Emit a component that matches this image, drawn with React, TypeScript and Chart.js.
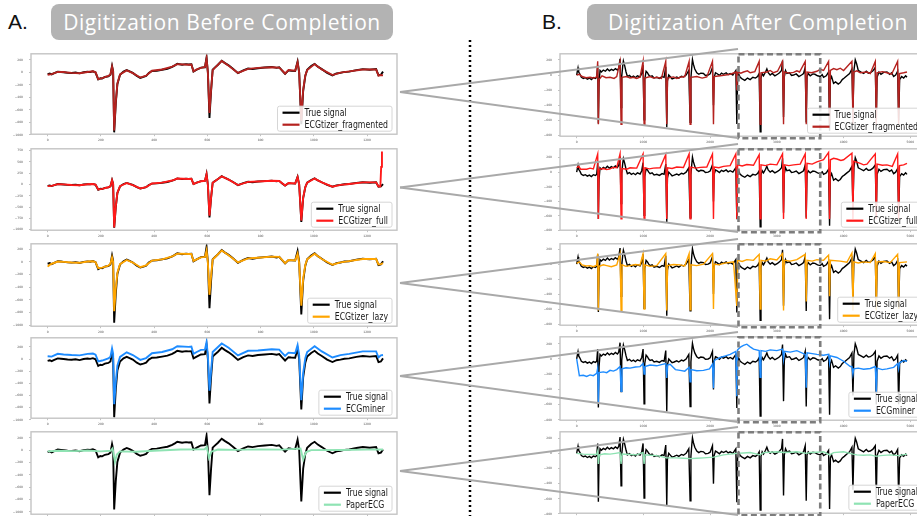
import React, { useEffect, useRef } from "react";
import { Chart, registerables } from "chart.js";
Chart.register(...registerables);

type Pt = [number, number];

// ---------- tick labels ----------
const LEFT_X_TICKS = [0, 200, 400, 600, 800, 1000, 1200];
const RIGHT_X_TICKS = [0, 1000, 2000, 3000, 4000, 5000];
const Y_TICKS_200 = [200, 0, -200, -400, -600, -800, -1000];
const Y_TICKS_250 = [750, 500, 250, 0, -250, -500, -750, -1000];
const RIGHT_Y_TICKS = [200, 0, -200, -400, -600, -800];

// ---------- series names ----------
const TRUE_LABEL = "True signal";
const METHOD_LABELS = ["ECGtizer_fragmented", "ECGtizer_full", "ECGtizer_lazy", "ECGminer", "PaperECG"];

// ---------- left column: digitization before completion (samples 0..1260) ----------
const LEFT_TRUE: Pt[] = [[0,-30],[8,-20],[15,-35],[25,-15],[38,10],[50,5],[60,0],[75,-8],[90,-12],[105,-5],[120,-18],[135,0],[150,8],[160,2],[170,14],[180,-5],[190,-115],[198,-95],[205,-100],[215,-75],[228,-65],[236,-40],[242,100],[246,20],[250,-960],[256,-500],[262,-190],[272,-40],[285,10],[297,35],[308,15],[320,-10],[335,-60],[348,-90],[360,-75],[370,-60],[380,-10],[392,20],[410,25],[430,40],[450,55],[468,85],[478,110],[487,135],[505,120],[520,130],[530,125],[540,128],[548,10],[560,40],[576,75],[591,80],[597,235],[602,0],[608,-730],[614,-300],[620,40],[627,70],[640,120],[654,185],[665,150],[680,110],[695,60],[715,-15],[735,30],[753,60],[770,50],[790,65],[815,75],[842,85],[860,70],[870,80],[880,30],[892,-25],[905,30],[915,25],[930,20],[939,170],[945,0],[953,-830],[960,-300],[968,-60],[975,40],[990,100],[1003,135],[1015,90],[1030,50],[1050,-10],[1070,-50],[1085,-20],[1100,-10],[1115,5],[1133,10],[1160,35],[1184,50],[1210,40],[1234,50],[1243,-50],[1252,-40],[1260,10]];
const LEFT_FRAG: Pt[] = [[0,-40],[15,-30],[38,5],[60,5],[75,-5],[90,-10],[120,-15],[150,5],[170,15],[180,0],[190,-110],[205,-95],[228,-60],[236,-35],[242,90],[246,10],[250,-930],[256,-480],[262,-180],[272,-35],[297,30],[320,-15],[348,-85],[370,-55],[392,25],[430,45],[468,90],[487,130],[530,120],[540,125],[548,15],[560,45],[576,70],[591,85],[597,220],[602,-10],[608,-650],[614,-280],[620,35],[627,65],[654,180],[680,105],[715,-10],[753,55],[790,70],[842,80],[870,75],[880,35],[892,-20],[905,35],[930,25],[939,160],[945,-10],[953,-780],[960,-280],[968,-50],[975,35],[1003,130],[1030,45],[1070,-45],[1100,-5],[1133,15],[1184,45],[1234,45],[1243,-55],[1252,-45],[1260,-50]];
const LEFT_FULL: Pt[] = [[0,-35],[15,-30],[38,8],[60,2],[90,-10],[120,-16],[150,6],[170,12],[180,-3],[190,-112],[205,-98],[228,-62],[236,-38],[242,95],[246,15],[250,-955],[256,-490],[262,-185],[272,-38],[297,33],[320,-12],[348,-88],[370,-58],[392,22],[430,42],[468,88],[487,132],[530,122],[540,126],[548,12],[560,42],[576,72],[591,82],[597,225],[602,-5],[608,-690],[614,-290],[620,38],[627,68],[654,182],[680,108],[715,-12],[753,58],[790,68],[842,82],[870,78],[880,32],[892,-22],[905,32],[930,22],[939,165],[945,-5],[953,-800],[960,-290],[968,-55],[975,38],[1003,132],[1030,48],[1070,-48],[1100,-8],[1133,12],[1184,48],[1234,48],[1243,-45],[1250,-40],[1253,390],[1256,730]];
const LEFT_LAZY: Pt[] = [[0,-75],[10,-40],[38,5],[60,0],[90,-10],[120,-15],[150,5],[170,10],[180,-5],[190,-100],[205,-90],[228,-60],[236,-30],[242,70],[246,0],[250,-780],[256,-420],[262,-170],[272,-35],[297,30],[320,-10],[348,-85],[370,-55],[392,20],[430,40],[468,85],[487,130],[530,125],[540,125],[548,15],[560,40],[576,70],[591,78],[597,180],[602,-10],[608,-520],[614,-220],[620,35],[627,65],[654,180],[680,105],[715,-10],[753,55],[790,65],[842,82],[870,78],[880,35],[892,-20],[905,30],[930,22],[939,130],[945,-20],[953,-690],[960,-260],[968,-50],[975,40],[1003,130],[1030,45],[1070,-45],[1100,-8],[1133,12],[1184,45],[1234,45],[1243,-40],[1252,-35],[1260,-20]];
const LEFT_MINER: Pt[] = [[0,45],[15,40],[38,85],[60,75],[90,65],[120,60],[150,85],[170,90],[180,70],[190,-40],[205,-25],[228,10],[236,35],[242,175],[246,90],[250,-745],[256,-380],[262,-110],[272,35],[297,110],[320,65],[348,-15],[370,15],[392,95],[430,115],[468,160],[487,210],[530,200],[540,205],[548,85],[560,115],[576,150],[591,155],[597,280],[602,60],[608,-523],[614,-200],[620,115],[627,145],[654,255],[680,185],[715,60],[753,135],[790,140],[842,160],[870,155],[880,105],[892,50],[905,105],[930,95],[939,230],[945,60],[953,-677],[960,-230],[968,15],[975,115],[1003,210],[1030,125],[1070,25],[1100,65],[1133,85],[1184,125],[1234,125],[1243,25],[1252,60],[1260,65]];
const LEFT_PAPER: Pt[] = [[0,-20],[40,-10],[100,-15],[150,-5],[200,-20],[236,-10],[244,30],[253,-190],[260,-70],[272,-20],[330,-25],[400,-10],[500,10],[590,15],[598,55],[606,-125],[615,-25],[640,10],[700,5],[800,12],[880,8],[950,25],[960,-150],[970,-35],[990,0],[1100,2],[1200,8],[1260,10]];

// ---------- right column: digitization after completion (samples 0..4950) ----------
const RIGHT_TRUE: Pt[] = [[0,0],[12,60],[20,95],[30,40],[50,10],[70,-30],[100,-45],[130,-35],[160,-55],[190,-40],[220,-60],[250,-35],[280,-45],[300,-30],[315,130],[325,-640],[335,-100],[350,60],[370,40],[400,65],[430,50],[460,80],[490,55],[520,75],[550,60],[580,85],[610,65],[630,90],[650,215],[665,-430],[675,-20],[690,120],[700,185],[720,120],[740,40],[760,-20],[790,-5],[820,-30],[850,-15],[880,-35],[910,-10],[950,-25],[975,20],[995,130],[1010,-590],[1020,-60],[1040,50],[1060,30],[1080,0],[1100,-20],[1130,-10],[1160,-40],[1200,-30],[1240,-45],[1280,-20],[1310,-30],[1335,110],[1350,-690],[1360,-80],[1380,0],[1400,-20],[1430,-50],[1460,-40],[1500,-25],[1530,-40],[1570,-15],[1600,-25],[1640,0],[1680,60],[1700,-625],[1712,-40],[1725,110],[1735,205],[1750,140],[1770,80],[1800,30],[1830,10],[1860,25],[1900,20],[1930,-5],[1970,0],[2000,15],[2035,100],[2050,-400],[2060,-30],[2080,30],[2100,20],[2140,-5],[2170,25],[2200,10],[2240,30],[2270,5],[2300,20],[2340,0],[2385,60],[2400,-645],[2412,-40],[2430,10],[2450,-30],[2480,-50],[2520,-70],[2560,-40],[2600,-60],[2640,-30],[2680,-40],[2710,-20],[2735,20],[2750,-750],[2762,-40],[2780,20],[2800,-10],[2830,40],[2850,80],[2870,30],[2900,0],[2930,20],[2970,-10],[3010,10],[3040,30],[3070,60],[3085,190],[3100,-555],[3112,-20],[3130,60],[3150,20],[3190,30],[3220,-5],[3250,0],[3290,15],[3330,-20],[3370,0],[3400,20],[3425,100],[3440,-625],[3452,-20],[3470,20],[3500,-10],[3540,15],[3570,10],[3610,-10],[3650,-20],[3680,5],[3700,-30],[3740,-10],[3775,40],[3790,-735],[3802,-60],[3820,-20],[3850,-110],[3880,-90],[3920,-120],[3950,-100],[3980,-60],[4010,-40],[4050,-10],[4090,20],[4125,80],[4140,-480],[4155,60],[4175,200],[4195,150],[4220,60],[4260,40],[4300,20],[4340,50],[4370,25],[4400,30],[4440,55],[4475,100],[4490,-600],[4502,-30],[4530,40],[4560,10],[4600,35],[4650,40],[4690,10],[4720,30],[4750,-20],[4780,0],[4810,50],[4825,-595],[4840,-60],[4870,-20],[4900,-40],[4930,-10],[4950,-30]];
const RIGHT_FRAG: Pt[] = [[0,0],[40,10],[80,-20],[140,-35],[200,-30],[250,-40],[300,-25],[315,180],[325,-650],[335,-60],[380,-10],[440,-35],[500,-30],[560,-45],[600,-20],[650,180],[665,-650],[678,-30],[750,-20],[800,-40],[850,-30],[900,-45],[950,-25],[995,180],[1010,-650],[1022,-40],[1100,-20],[1150,-40],[1200,-30],[1270,-45],[1335,180],[1350,-650],[1362,-40],[1450,-25],[1500,-45],[1550,-30],[1620,-20],[1685,180],[1700,-650],[1712,-30],[1800,-20],[1880,-40],[1950,-25],[2035,180],[2050,-650],[2062,-20],[2150,-10],[2230,0],[2300,10],[2390,40],[2400,-200],[2412,40],[2460,25],[2500,40],[2560,55],[2600,30],[2670,45],[2735,180],[2750,-650],[2762,30],[2850,40],[2900,60],[2950,30],[3010,50],[3085,180],[3100,-650],[3112,40],[3180,25],[3250,35],[3300,55],[3340,40],[3425,180],[3440,-650],[3452,40],[3520,30],[3600,50],[3650,75],[3700,60],[3775,180],[3790,-650],[3802,60],[3850,85],[3900,70],[3950,90],[4000,60],[4125,180],[4140,-650],[4152,40],[4200,55],[4250,30],[4350,40],[4400,20],[4475,180],[4490,-650],[4502,30],[4580,45],[4650,30],[4720,10],[4810,180],[4825,-650],[4838,20],[4900,30],[4950,40]];
const RIGHT_FULL: Pt[] = [[0,60],[30,80],[60,40],[150,40],[200,55],[250,45],[315,250],[325,-640],[335,40],[400,50],[450,35],[500,45],[550,65],[600,60],[650,250],[665,-640],[678,50],[750,40],[800,60],[900,55],[995,250],[1010,-640],[1022,60],[1090,45],[1150,55],[1250,60],[1335,240],[1350,-640],[1362,60],[1430,50],[1500,70],[1600,65],[1685,250],[1700,-640],[1712,70],[1780,55],[1850,65],[1950,70],[2035,250],[2050,-640],[2062,70],[2130,60],[2200,80],[2300,90],[2385,250],[2400,-640],[2412,100],[2480,85],[2550,105],[2650,95],[2735,240],[2750,-640],[2762,100],[2830,90],[2900,110],[3000,100],[3085,250],[3100,-640],[3112,100],[3180,90],[3250,100],[3350,110],[3425,250],[3440,-640],[3452,120],[3530,110],[3600,140],[3700,170],[3775,270],[3790,-640],[3802,170],[3850,190],[3900,180],[3960,160],[4000,170],[4125,260],[4140,-640],[4152,150],[4250,120],[4300,100],[4350,110],[4475,250],[4490,-640],[4502,110],[4580,95],[4650,100],[4730,80],[4810,250],[4825,-640],[4838,90],[4900,100],[4950,120]];
const RIGHT_LAZY: Pt[] = [[0,10],[40,30],[80,-10],[140,-25],[200,-20],[250,-35],[300,-15],[315,140],[325,-620],[335,-30],[400,-10],[450,-20],[520,-35],[600,-10],[650,140],[665,-620],[678,-10],[740,-30],[800,-20],[880,-5],[950,-15],[995,140],[1010,-600],[1022,-10],[1100,-30],[1200,-20],[1335,140],[1350,-620],[1362,-20],[1450,-5],[1550,-10],[1620,-25],[1685,140],[1700,-610],[1712,-10],[1800,-20],[1900,0],[2035,140],[2050,-600],[2062,0],[2130,-10],[2200,10],[2350,30],[2400,-560],[2412,50],[2480,35],[2550,60],[2650,50],[2735,130],[2750,-600],[2762,50],[2830,40],[2900,70],[3000,55],[3085,140],[3100,-620],[3112,50],[3200,40],[3300,60],[3425,130],[3440,-500],[3452,50],[3530,40],[3600,60],[3700,50],[3775,120],[3790,-430],[3802,50],[3950,40],[4050,25],[4125,150],[4140,-620],[4152,30],[4220,15],[4300,30],[4400,20],[4475,140],[4490,-620],[4502,30],[4600,35],[4700,20],[4810,130],[4825,-600],[4838,20],[4950,30]];
const RIGHT_MINER: Pt[] = [[0,0],[40,-220],[100,-215],[150,-230],[200,-210],[250,-220],[300,-190],[315,-120],[325,-590],[335,-180],[400,-170],[450,-180],[500,-150],[550,-160],[600,-140],[650,-100],[665,-425],[678,-130],[740,-115],[800,-120],[880,-105],[950,-100],[995,-60],[1010,-200],[1022,-100],[1100,-80],[1200,-90],[1270,-75],[1335,-60],[1350,-250],[1362,-80],[1400,-70],[1480,-140],[1550,-150],[1620,-160],[1685,-110],[1700,-300],[1712,-140],[1800,-155],[1900,-150],[1990,-130],[2035,-70],[2050,-385],[2062,-20],[2150,20],[2230,40],[2300,60],[2385,100],[2400,-490],[2412,120],[2460,160],[2500,180],[2550,195],[2600,160],[2650,130],[2735,110],[2750,-240],[2762,110],[2830,100],[2900,120],[3000,110],[3085,130],[3100,0],[3112,100],[3200,90],[3300,110],[3425,60],[3440,-380],[3452,80],[3530,70],[3600,60],[3700,50],[3775,60],[3790,-50],[3802,40],[3900,20],[4000,-30],[4100,-100],[4125,-100],[4140,-200],[4152,-130],[4220,-120],[4300,-135],[4400,-125],[4475,-100],[4490,-445],[4502,-120],[4580,-140],[4650,-130],[4750,-110],[4810,-60],[4825,-130],[4838,-50],[4900,-20],[4950,-30]];
const RIGHT_PAPER: Pt[] = [[0,0],[100,-10],[200,-15],[300,-10],[315,30],[325,-140],[340,-20],[420,-5],[500,-10],[580,0],[650,10],[665,-140],[680,-10],[800,-15],[900,-20],[995,10],[1010,-140],[1025,-20],[1100,-25],[1200,-30],[1350,-60],[1500,-60],[1600,-65],[1700,-70],[1800,-65],[1900,-60],[2050,-50],[2200,-20],[2300,-10],[2400,0],[2500,5],[2600,10],[2750,-20],[2800,10],[2900,15],[3000,20],[3100,10],[3200,15],[3300,20],[3440,0],[3500,10],[3600,15],[3700,20],[3790,-20],[3850,10],[4000,20],[4140,-10],[4200,-20],[4300,-25],[4400,-20],[4490,-40],[4550,-30],[4700,-20],[4825,-30],[4950,-10]];

const LEFT_SERIES = [LEFT_FRAG, LEFT_FULL, LEFT_LAZY, LEFT_MINER, LEFT_PAPER];
const RIGHT_SERIES = [RIGHT_FRAG, RIGHT_FULL, RIGHT_LAZY, RIGHT_MINER, RIGHT_PAPER];
const ZOOM_WINDOW = [2425, 3650];

// ---------- styles / layout ----------
const TRUE_COLOR = "#000000";
const METHOD_COLORS = ["#b5221f", "#ff1a1a", "#ffa500", "#1e8cff", "#8fe3b3"];
const LEFT_FRAMES = [[49, 135], [144, 231], [239, 327], [333, 419], [427, 515]];
const RIGHT_FRAMES = [[49, 137], [144, 231], [239, 326], [332, 421], [427, 514]];
const LEFT_YRANGES = [[-990, 295], [-1014, 792], [-1015, 285], [-974, 349], [-1036, 297]];
const RIGHT_YRANGES = [[-807, 280], [-795, 320], [-816, 271], [-806, 292], [-790, 284]];

const fmt = (v: number) => (v < 0 ? "\u2212" + String(-v) : String(v));

const mplPlugin = {
  id: "mpl",
  afterDatasetsDraw(chart: any, _a: any, opts: any) {
    const { ctx, chartArea: ca } = chart;
    ctx.save();
    ctx.strokeStyle = "#c4c4c4";
    ctx.lineWidth = 1.4;
    ctx.strokeRect(ca.left, ca.top, ca.right - ca.left, ca.bottom - ca.top);
    if (opts.box) {
      const xs = chart.scales.x;
      const x1 = xs.getPixelForValue(opts.box[0]);
      const x2 = xs.getPixelForValue(opts.box[1]);
      ctx.strokeStyle = "#7d7d7d";
      ctx.lineWidth = 2.6;
      ctx.setLineDash([6, 3.5]);
      ctx.strokeRect(x1, ca.top + 0.5, x2 - x1, ca.bottom - ca.top + 1.5);
      ctx.setLineDash([]);
    }
    const items = [
      { label: TRUE_LABEL, color: TRUE_COLOR },
      { label: opts.label, color: opts.color },
    ];
    const sx = 0.78;
    ctx.font = '10px "DejaVu Sans"';
    const tw = Math.max(...items.map((i) => ctx.measureText(i.label).width)) * sx;
    const w = 5 + 17 + 5 + tw + 4;
    const h = 25;
    const right = ca.right - 5;
    const bottom = ca.bottom - 3;
    const left = right - w;
    const top = bottom - h;
    const r = 2;
    ctx.beginPath();
    ctx.moveTo(left + r, top);
    ctx.lineTo(right - r, top);
    ctx.quadraticCurveTo(right, top, right, top + r);
    ctx.lineTo(right, bottom - r);
    ctx.quadraticCurveTo(right, bottom, right - r, bottom);
    ctx.lineTo(left + r, bottom);
    ctx.quadraticCurveTo(left, bottom, left, bottom - r);
    ctx.lineTo(left, top + r);
    ctx.quadraticCurveTo(left, top, left + r, top);
    ctx.closePath();
    ctx.fillStyle = "rgba(255,255,255,0.85)";
    ctx.fill();
    ctx.strokeStyle = "#d6d6d6";
    ctx.lineWidth = 1;
    ctx.stroke();
    items.forEach((it, i) => {
      const cy = top + 6.5 + i * 12;
      ctx.beginPath();
      ctx.moveTo(left + 5, cy);
      ctx.lineTo(left + 22, cy);
      ctx.strokeStyle = it.color;
      ctx.lineWidth = 2.2;
      ctx.stroke();
      ctx.save();
      ctx.translate(left + 27, cy);
      ctx.scale(sx, 1);
      ctx.fillStyle = "#1a1a1a";
      ctx.textBaseline = "middle";
      ctx.fillText(it.label, 0, 0.5);
      ctx.restore();
    });
    ctx.restore();
  },
};

type PanelCfg = {
  left: number; top: number; w: number; h: number; yW: number;
  xMin: number; xMax: number; xTicks: number[];
  yMin: number; yMax: number; yTicks: number[];
  truth: Pt[]; series: Pt[]; label: string; color: string; lw: number;
  box?: number[];
};

function Panel({ cfg }: { cfg: PanelCfg }) {
  const ref = useRef<HTMLCanvasElement>(null);
  useEffect(() => {
    const tickFont = { size: 3, family: "DejaVu Sans" };
    const gridCfg = { drawOnChartArea: false, drawTicks: true, tickLength: 2, color: "#999", lineWidth: 0.6 };
    const chart = new Chart(ref.current as HTMLCanvasElement, {
      type: "line",
      data: {
        datasets: [
          {
            label: TRUE_LABEL,
            data: cfg.truth.map(([x, y]) => ({ x, y })),
            borderColor: TRUE_COLOR,
            borderWidth: cfg.lw,
            pointRadius: 0,
            tension: 0,
            order: 2,
          },
          {
            label: cfg.label,
            data: cfg.series.map(([x, y]) => ({ x, y })),
            borderColor: cfg.color,
            borderWidth: cfg.lw,
            pointRadius: 0,
            tension: 0,
            order: 1,
          },
        ],
      },
      options: {
        animation: false,
        responsive: false,
        events: [],
        layout: { padding: { top: 3, right: 3, left: 0, bottom: 0 } },
        plugins: {
          legend: { display: false },
          tooltip: { enabled: false },
          mpl: { label: cfg.label, color: cfg.color, box: cfg.box },
        } as any,
        scales: {
          x: {
            type: "linear",
            min: cfg.xMin,
            max: cfg.xMax,
            afterBuildTicks: (s: any) => { s.ticks = cfg.xTicks.map((v) => ({ value: v })); },
            afterFit: (s: any) => { s.height = 7; },
            ticks: { font: tickFont, color: "#555", padding: 2, maxRotation: 0, autoSkip: false, callback: (v: any) => fmt(Number(v)) },
            grid: gridCfg,
            border: { display: false },
          },
          y: {
            type: "linear",
            min: cfg.yMin,
            max: cfg.yMax,
            afterBuildTicks: (s: any) => { s.ticks = cfg.yTicks.map((v) => ({ value: v })); },
            afterFit: (s: any) => { s.width = cfg.yW; },
            ticks: { font: tickFont, color: "#555", padding: 6, autoSkip: false, callback: (v: any) => fmt(Number(v)) },
            grid: gridCfg,
            border: { display: false },
          },
        },
      },
      plugins: [mplPlugin],
    } as any);
    return () => chart.destroy();
  }, []);
  return (
    <canvas
      ref={ref}
      width={cfg.w}
      height={cfg.h}
      style={{ position: "absolute", left: cfg.left, top: cfg.top, width: cfg.w, height: cfg.h }}
    />
  );
}

const headerBox: React.CSSProperties = {
  position: "absolute",
  top: 4,
  height: 36,
  width: 342,
  borderRadius: 8,
  background: "#b3b3b3",
  color: "#ffffff",
  fontFamily: '"Open Sans", "Liberation Sans", sans-serif',
  fontSize: 21,
  letterSpacing: 0.6,
  lineHeight: "36px",
  textAlign: "center",
  whiteSpace: "nowrap",
};
const headerLetter: React.CSSProperties = {
  position: "absolute",
  top: 4,
  height: 36,
  lineHeight: "36px",
  fontFamily: '"Liberation Sans", Arial, sans-serif',
  fontSize: 21,
  color: "#111",
};

export default function App() {
  const leftPanels: PanelCfg[] = LEFT_FRAMES.map(([t, b], i) => ({
    left: 0, top: t - 3, w: 400, h: b - t + 10, yW: 31,
    xMin: -62.5, xMax: 1312.5, xTicks: LEFT_X_TICKS,
    yMin: LEFT_YRANGES[i][0], yMax: LEFT_YRANGES[i][1],
    yTicks: i === 1 ? Y_TICKS_250 : Y_TICKS_200,
    truth: LEFT_TRUE, series: LEFT_SERIES[i], label: METHOD_LABELS[i], color: METHOD_COLORS[i], lw: 1.9,
  }));
  const rightPanels: PanelCfg[] = RIGHT_FRAMES.map(([t, b], i) => ({
    left: 535, top: t - 3, w: 395, h: b - t + 10, yW: 25,
    xMin: -250, xMax: 5250, xTicks: RIGHT_X_TICKS,
    yMin: RIGHT_YRANGES[i][0], yMax: RIGHT_YRANGES[i][1], yTicks: RIGHT_Y_TICKS,
    truth: RIGHT_TRUE, series: RIGHT_SERIES[i], label: METHOD_LABELS[i], color: METHOD_COLORS[i], lw: 1.4,
    box: ZOOM_WINDOW,
  }));
  return (
    <div style={{ position: "absolute", left: 0, top: 0, width: 917, height: 516, overflow: "hidden", background: "#fff" }}>
      <div style={{ ...headerLetter, left: 8 }}>A.</div>
      <div style={{ ...headerBox, left: 51 }}>Digitization Before Completion</div>
      <div style={{ ...headerLetter, left: 542 }}>B.</div>
      <div style={{ ...headerBox, left: 587 }}>Digitization After Completion</div>
      {leftPanels.map((c, i) => <Panel key={"l" + i} cfg={c} />)}
      {rightPanels.map((c, i) => <Panel key={"r" + i} cfg={c} />)}
      <svg width={917} height={516} style={{ position: "absolute", left: 0, top: 0, pointerEvents: "none" }}>
        <line x1={470} y1={40} x2={470} y2={516} stroke="#000" strokeWidth={2.5} strokeDasharray="2 3" />
        {LEFT_FRAMES.map(([t, b], i) => {
          const ay = (t + b) / 2;
          const [rt, rb] = RIGHT_FRAMES[i];
          return (
            <g key={i} stroke="#a9a9a9" strokeWidth={2}>
              <line x1={400} y1={ay} x2={738} y2={rt} />
              <line x1={400} y1={ay} x2={738} y2={rb + 1} />
            </g>
          );
        })}
      </svg>
    </div>
  );
}
